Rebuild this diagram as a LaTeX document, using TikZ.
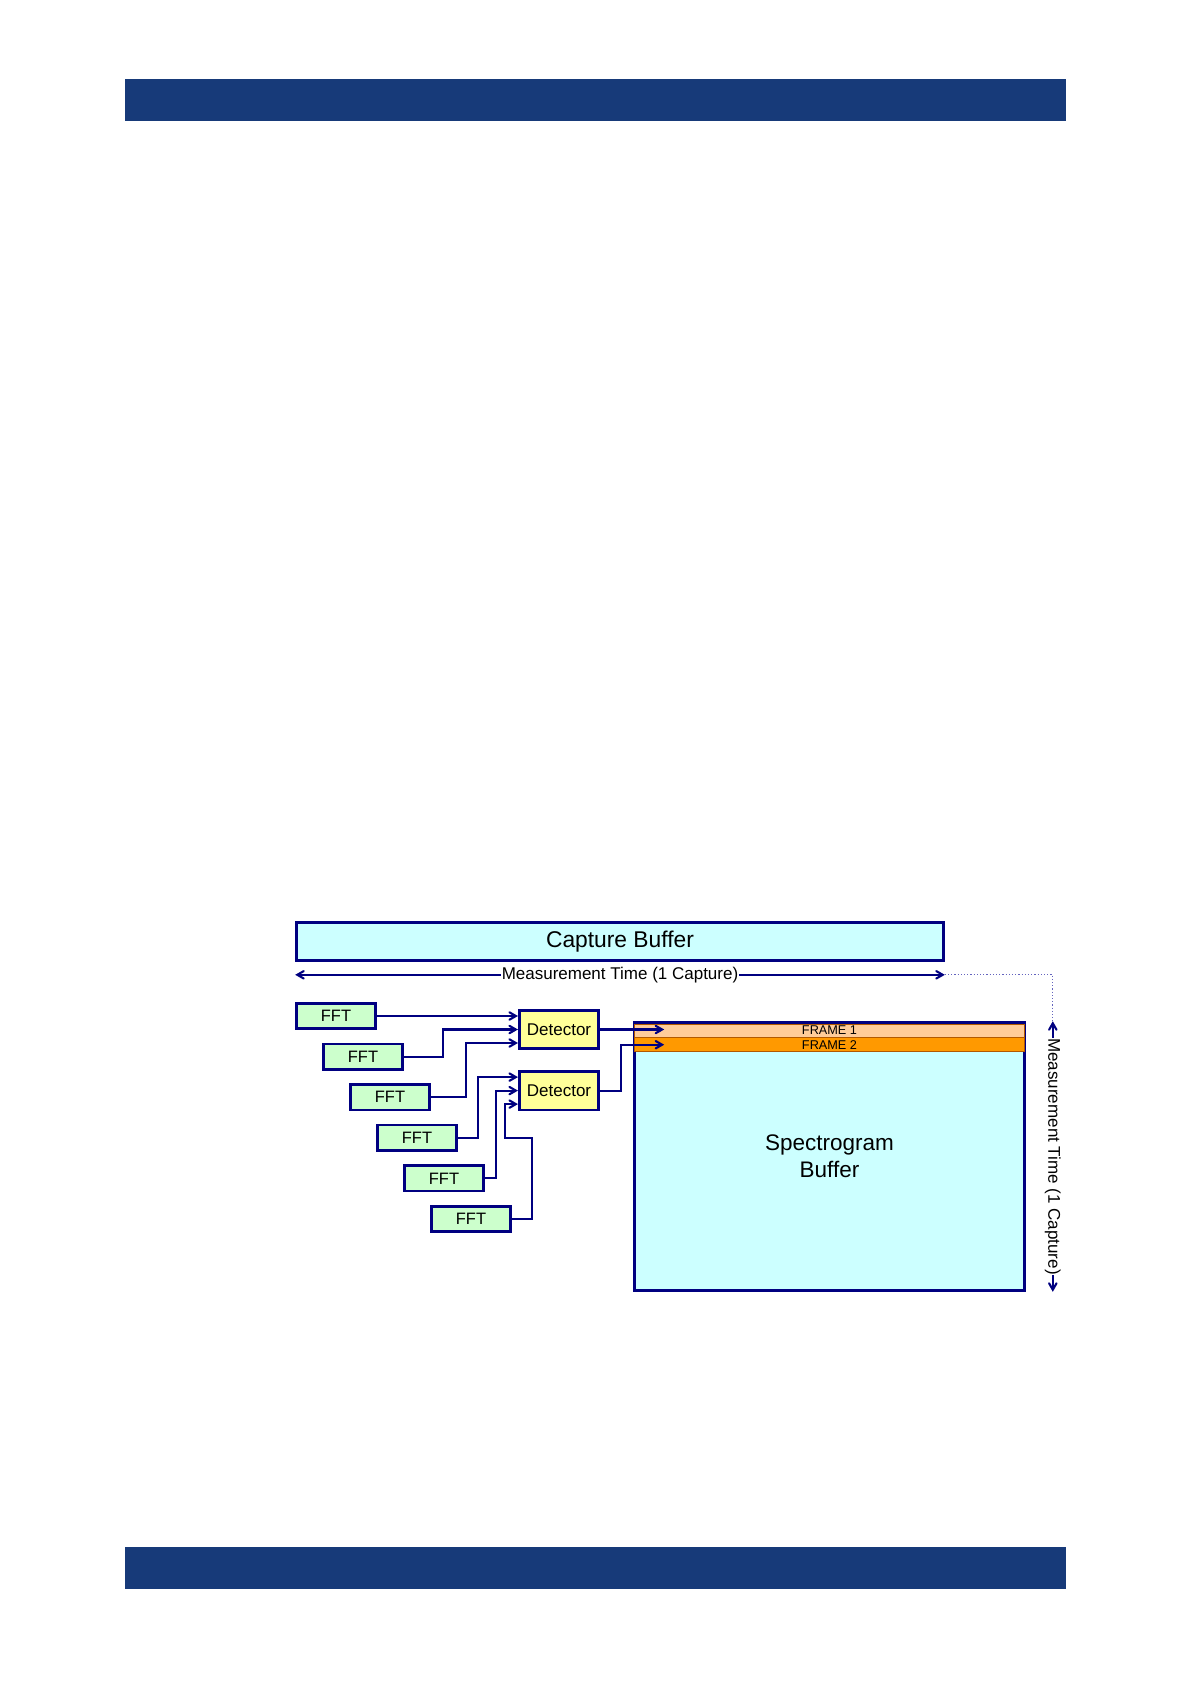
\documentclass[tikz,border=0pt]{standalone}
\usepackage{fontspec}
\setmainfont{Liberation Sans}
\usepackage{tikz}
\usetikzlibrary{
  arrows,
  positioning,
  calc
}
\definecolor{rsblue}{RGB}{23,58,121}
\definecolor{linenavy}{RGB}{0,0,128}
\definecolor{bufcyan}{RGB}{204,255,255}
\definecolor{fftgreen}{RGB}{204,255,204}
\definecolor{detyellow}{RGB}{255,255,153}
\definecolor{frameone}{RGB}{255,204,153}
\definecolor{frametwo}{RGB}{255,153,0}
\definecolor{dotblue}{RGB}{100,100,190}

\begin{document}
\begin{tikzpicture}[x=1pt,y=-1pt,>=angle 60,
  box/.style={draw=linenavy,line width=2.6pt,inner sep=0pt},
  fftbox/.style={box,fill=fftgreen,minimum width=79.5pt,minimum height=25.5pt,font=\fontsize{16.5}{19}\selectfont},
  detbox/.style={box,fill=detyellow,minimum width=79.5pt,minimum height=38.5pt,font=\fontsize{17}{20}\selectfont},
  bufbox/.style={box,fill=bufcyan},
  framebar/.style={draw=orange!70!black,line width=0.6pt,inner sep=0pt,minimum width=390pt,font=\fontsize{12.7}{14}\selectfont},
  conn/.style={->,draw=linenavy,line width=2.1pt},
  dim/.style={<->,draw=linenavy,line width=2.1pt},
  dimlabel/.style={fill=white,inner sep=0.5pt,font=\fontsize{17}{20}\selectfont}]
\useasboundingbox (0,0) rectangle (1192,1685);
\fill[rsblue] (125,79) rectangle (1066,121);
\fill[rsblue] (125,1547) rectangle (1066,1589);

\node[bufbox,minimum width=647pt,minimum height=38pt,font=\fontsize{22.8}{26}\selectfont] (capture) at (620,941.5) {Capture Buffer};

\foreach \i in {1,...,6}
  \node[fftbox] (fft\i) at ({336+27*(\i-1)},{1016+40.6*(\i-1)}) {FFT};

\node[detbox] (det1) at (559,1029.5) {Detector};
\node[detbox,below=20pt of det1] (det2) {Detector};

\node[bufbox,minimum width=390pt,minimum height=268pt,align=center,font=\fontsize{22.5}{27}\selectfont] (spec) at (829.5,1156.5) {Spectrogram\\Buffer};
\node[framebar,fill=frameone,minimum height=13pt,anchor=north] (frame1) at ([yshift=-2.6pt]spec.north) {FRAME 1};
\node[framebar,fill=frametwo,minimum height=14pt,below=0pt of frame1] (frame2) {FRAME 2};

\foreach \d in {1,2} {
  \coordinate (d\d in1) at ([yshift=13.5pt]det\d.west);
  \coordinate (d\d in2) at (det\d.west);
  \coordinate (d\d in3) at ([yshift=-13.5pt]det\d.west);
}
\coordinate (tip1) at ([xshift=30pt]frame1.west);
\coordinate (tip2) at ([xshift=30pt]frame2.west);

\draw[conn] (fft1.east) -- (d1in1);
\draw[conn] (fft2.east) -- ++(39,0) |- (d1in2);
\draw[conn] (fft3.east) -- ++(35,0) |- (d1in3);
\draw[conn] (fft4.east) -- ++(20,0) |- (d2in1);
\draw[conn] (fft5.east) -- ++(11,0) |- (d2in2);
\draw[conn] (fft6.east) -- ++(20,0) -- ++(0,-81) -- ++(-27,0) |- (d2in3);

\draw[conn] (det1.east) -- (det1.east -| tip1);
\draw[conn] (det2.east) -- ++(21,0) |- (tip2);

\coordinate (mtl) at ([yshift=-13pt]capture.south west);
\coordinate (mtr) at ([yshift=-13pt]capture.south east);
\coordinate (mtt) at ([xshift=27pt]spec.north east);
\coordinate (mtb) at ([xshift=27pt]spec.south east);
\draw[dim] (mtl) -- node[dimlabel] {Measurement Time (1 Capture)} (mtr);
\draw[dotted,draw=dotblue,line width=1.2pt] (mtr) -| (mtt);
\draw[dim] (mtt) -- node[dimlabel,rotate=-90] {Measurement Time (1 Capture)} (mtb);
\end{tikzpicture}
\end{document}
